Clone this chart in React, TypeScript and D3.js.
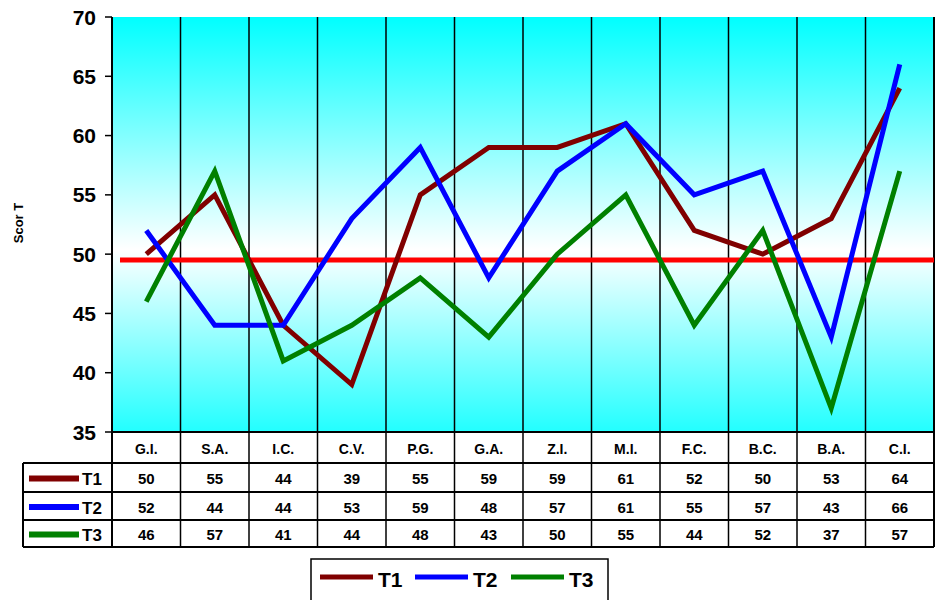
import { useMemo } from 'react';
import * as d3 from 'd3';

// categories and series
const categories = ['G.I.', 'S.A.', 'I.C.', 'C.V.', 'P.G.', 'G.A.', 'Z.I.', 'M.I.', 'F.C.', 'B.C.', 'B.A.', 'C.I.'];
const t1 = [50, 55, 44, 39, 55, 59, 59, 61, 52, 50, 53, 64];
const t2 = [52, 44, 44, 53, 59, 48, 57, 61, 55, 57, 43, 66];
const t3 = [46, 57, 41, 44, 48, 43, 50, 55, 44, 52, 37, 57];
const seriesNames = ['T1', 'T2', 'T3'];
const seriesColors = ['#800000', '#0000ff', '#008000'];
const yTicks = [35, 40, 45, 50, 55, 60, 65, 70];
const referenceValue = 49.5;

const FONT = "Arial, 'Liberation Sans', sans-serif";

export default function App() {
	const series = [t1, t2, t3];

	// plot area
	const left = 112;
	const right = 934;
	const top = 17;
	const bottom = 432;

	// table rows below the plot
	const rowLines = [432, 463, 492, 520, 547];
	const tableLeft = 23;

	const x = useMemo(() => d3.scaleBand<string>().domain(categories).range([left, right]).padding(0), []);
	const y = useMemo(() => d3.scaleLinear().domain([35, 70]).range([bottom, top]), []);

	const line = d3
		.line<number>()
		.x((_, i) => (x(categories[i]) ?? 0) + x.bandwidth() / 2)
		.y((d) => y(d));

	const bounds = categories.map((c) => x(c) ?? 0).concat([right]);

	return (
		<svg
			width={937}
			height={600}
			style={{ position: 'absolute', left: 0, top: 0, background: '#fff' }}
			fontFamily={FONT}
		>
			<defs>
				<linearGradient id="bg" x1="0" y1="0" x2="0" y2="1">
					<stop offset="0" stopColor="#00ffff" />
					<stop offset="0.56" stopColor="#ffffff" />
					<stop offset="1" stopColor="#22ffff" />
				</linearGradient>
			</defs>

			<rect x={left} y={top} width={right - left} height={bottom - top} fill="url(#bg)" />

			{/* column separators through plot and table */}
			{bounds.map((b, i) => (
				<line
					key={`v${i}`}
					x1={b}
					x2={b}
					y1={top}
					y2={rowLines[rowLines.length - 1]}
					stroke="#000"
					strokeWidth={i === 0 || i === bounds.length - 1 ? 2 : 1.5}
				/>
			))}

			{/* table horizontal lines */}
			{rowLines.map((ry, i) => (
				<line
					key={`h${i}`}
					x1={i === 0 ? left : tableLeft}
					x2={right}
					y1={ry}
					y2={ry}
					stroke="#000"
					strokeWidth={2}
				/>
			))}
			<line x1={tableLeft} x2={tableLeft} y1={rowLines[1]} y2={rowLines[4]} stroke="#000" strokeWidth={2} />

			{/* y axis */}
			{yTicks.map((t) => (
				<g key={t}>
					<line x1={105} x2={left} y1={y(t)} y2={y(t)} stroke="#000" strokeWidth={1.5} />
					<text
						x={96}
						y={y(t)}
						textAnchor="end"
						dominantBaseline="central"
						fontSize={21}
						fontWeight="bold"
					>
						{t}
					</text>
				</g>
			))}
			<text
				transform="translate(18,223) rotate(-90)"
				textAnchor="middle"
				dominantBaseline="central"
				fontSize={13}
				fontWeight="bold"
			>
				Scor T
			</text>

			{/* reference line */}
			<line
				x1={left + 8}
				x2={right}
				y1={y(referenceValue)}
				y2={y(referenceValue)}
				stroke="#ff0000"
				strokeWidth={5}
			/>

			{/* series */}
			{series.map((s, i) => (
				<path
					key={seriesNames[i]}
					d={line(s) ?? ''}
					fill="none"
					stroke={seriesColors[i]}
					strokeWidth={5}
					strokeLinejoin="miter"
				/>
			))}

			{/* table header */}
			{categories.map((c) => (
				<text
					key={c}
					x={(x(c) ?? 0) + x.bandwidth() / 2}
					y={(rowLines[0] + rowLines[1]) / 2 + 1}
					textAnchor="middle"
					dominantBaseline="central"
					fontSize={14}
					fontWeight="bold"
				>
					{c}
				</text>
			))}

			{/* table rows */}
			{series.map((s, i) => {
				const cy = (rowLines[i + 1] + rowLines[i + 2]) / 2 + 1;
				return (
					<g key={`row${i}`}>
						<line x1={29} x2={79} y1={cy} y2={cy} stroke={seriesColors[i]} strokeWidth={6} />
						<text x={82} y={cy + 1} dominantBaseline="central" fontSize={17} fontWeight="bold">
							{seriesNames[i]}
						</text>
						{s.map((v, j) => (
							<text
								key={j}
								x={(x(categories[j]) ?? 0) + x.bandwidth() / 2}
								y={cy}
								textAnchor="middle"
								dominantBaseline="central"
								fontSize={15}
								fontWeight="bold"
							>
								{v}
							</text>
						))}
					</g>
				);
			})}

			{/* legend */}
			<rect x={311} y={559} width={297} height={50} fill="#fff" stroke="#000" strokeWidth={1.5} />
			{seriesNames.map((n, i) => {
				const lx = [320, 415, 511][i];
				return (
					<g key={`lg${n}`}>
						<line x1={lx} x2={lx + 53} y1={577} y2={577} stroke={seriesColors[i]} strokeWidth={5} />
						<text x={lx + 58} y={579} dominantBaseline="central" fontSize={21} fontWeight="bold">
							{n}
						</text>
					</g>
				);
			})}
		</svg>
	);
}
